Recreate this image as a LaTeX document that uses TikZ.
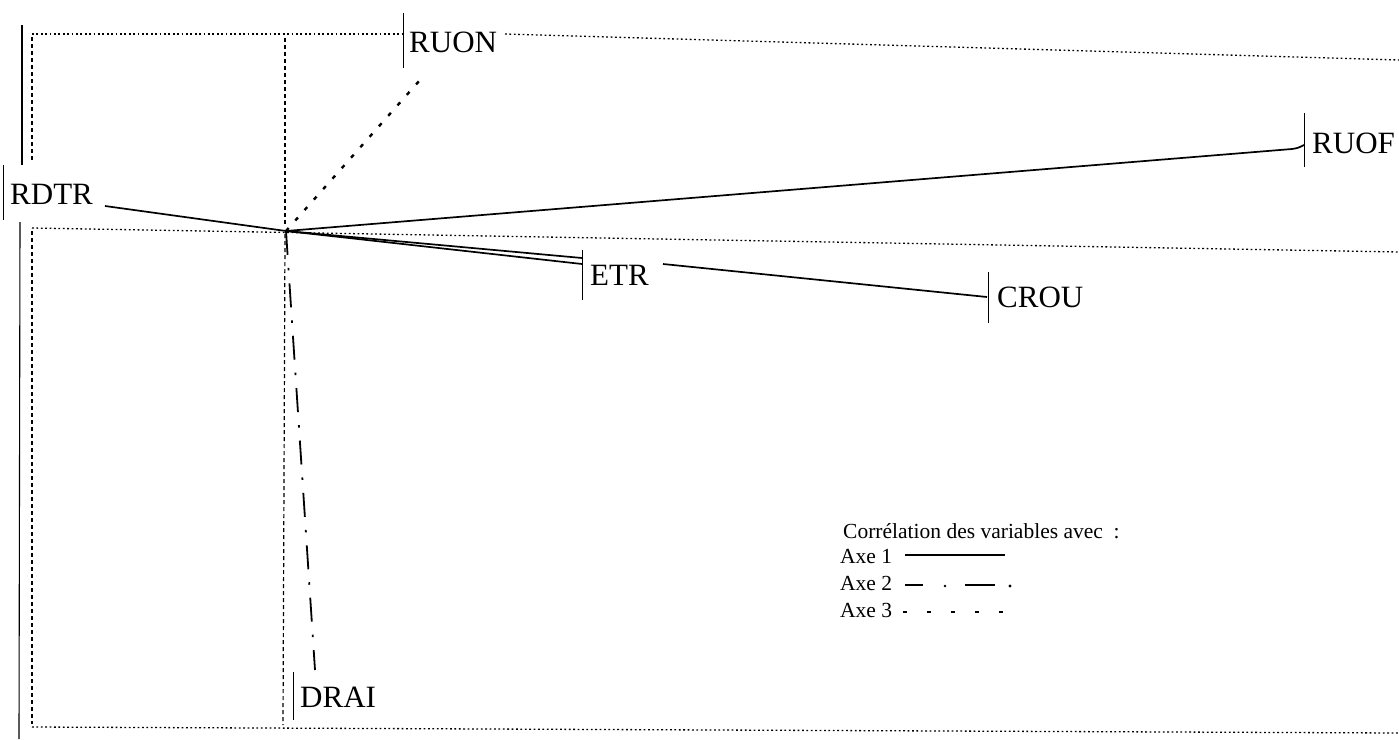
\documentclass[tikz,border=0pt]{standalone}
\usepackage{fontspec}
\setmainfont{Liberation Serif}
\usetikzlibrary{calc}
\begin{document}
\begin{tikzpicture}[x=1pt,y=-1pt,
  framedot/.style={line width=1.3pt, dash pattern=on 1.8pt off 2.6pt},
  vdash/.style={line width=1.2pt, dash pattern=on 4pt off 3pt},
  rule/.style={line width=1.1pt},
  bar/.style={line width=0.9pt},
  axeone/.style={line width=1.7pt},
  axetwo/.style={line width=1.8pt, dash pattern=on 24pt off 13pt on 2.5pt off 13pt},
  axethree/.style={line width=2.4pt, dash pattern=on 4pt off 10pt},
  lbl/.style={font=\fontsize{31}{31}\selectfont, anchor=base west, inner sep=0pt},
  leg/.style={font=\fontsize{21.5}{21.5}\selectfont, anchor=base west, inner sep=0pt}]
\useasboundingbox (0,0) rectangle (1399,739);
% frame
\coordinate (tl) at (32,34);
\coordinate (tm) at (402,34);
\coordinate (tm2) at (505,34);
\coordinate (tr) at (1399,60);
\coordinate (ml) at (32,228);
\coordinate (mr) at (1399,252);
\coordinate (bl) at (32,727);
\coordinate (br) at (1399,733);
\draw[framedot] (tl) -- (tm);
\draw[framedot] (tm2) -- (tr);
\draw[framedot] (ml) -- (mr);
\draw[framedot] (bl) -- (br);
\draw[vdash] (32,37) -- (32,162);
\draw[vdash] (32,231) -- (32,724);
\draw[vdash] (285,38) -- (285,226);
\draw[vdash] (285,234) -- (283,725);
\draw[rule] (22,25) -- (22,165);
\draw[rule] (20,222) -- (19,739);
% origin
\coordinate (O) at (286,231);
% labels
\node[lbl] (rdtr) at (10,204) {RDTR};
\node[lbl] (ruon) at (409,52) {RUON};
\node[lbl] (ruof) at (1312,153) {RUOF};
\node[lbl] (etr) at (590,285) {ETR};
\node[lbl] (crou) at (997,307) {CROU};
\node[lbl] (drai) at (300,707) {DRAI};
% label bars
\draw[bar] (3,165) -- (3,220);
\draw[bar] (403,13) -- (403,68);
\draw[bar] (1304,113) -- (1304,167);
\draw[bar] (582,250) -- (582,300);
\draw[bar] (988,272) -- (988,323);
\draw[bar] (293,672) -- (293,720);
% connector end points
\coordinate (eRDTR) at (105,206);
\coordinate (eRUOF) at (1292,149);
\coordinate (eRUOFb) at (1304,145);
\coordinate (eETR) at (582,264);
\coordinate (eCROUa) at (582,258);
\coordinate (eCROUb) at (663,264);
\coordinate (eCROU) at (987,297);
\coordinate (eRUON) at (420,80);
\coordinate (eDRAI) at (315,670);
% axe 1
\draw[axeone] (O) -- (eRDTR);
\draw[axeone] (O) -- (eRUOF) .. controls (1298,148) .. (eRUOFb);
\draw[axeone] (O) -- (eETR);
\draw[axeone] (O) -- (eCROUa);
\draw[axeone] (eCROUb) -- (eCROU);
% axe 3
\draw[axethree] (O) -- (eRUON);
% axe 2
\draw[axetwo] (O) -- (eDRAI);
% legend
\node[leg] (legt) at (843,538) {Corrélation des variables avec\ \ :};
\node[leg] (ax1) at (840,563) {Axe 1};
\node[leg] (ax2) at (840,590) {Axe 2};
\node[leg] (ax3) at (840,617) {Axe 3};
\coordinate (l1a) at (905,555);
\coordinate (l1b) at (1005,555);
\draw[axeone] (l1a) -- (l1b);
\coordinate (l2a) at (905,585);
\coordinate (l2b) at (923,585);
\coordinate (l2c) at (965,585);
\coordinate (l2d) at (995,585);
\draw[line width=1.8pt] (l2a) -- (l2b);
\draw[line width=1.8pt] (l2c) -- (l2d);
\fill (945,586) circle (1.4);
\fill (1010,586) circle (1.6);
\coordinate (l3a) at (903,612);
\coordinate (l3b) at (1007,612);
\draw[line width=2.4pt, dash pattern=on 4pt off 20pt] (l3a) -- (l3b);
\end{tikzpicture}
\end{document}
